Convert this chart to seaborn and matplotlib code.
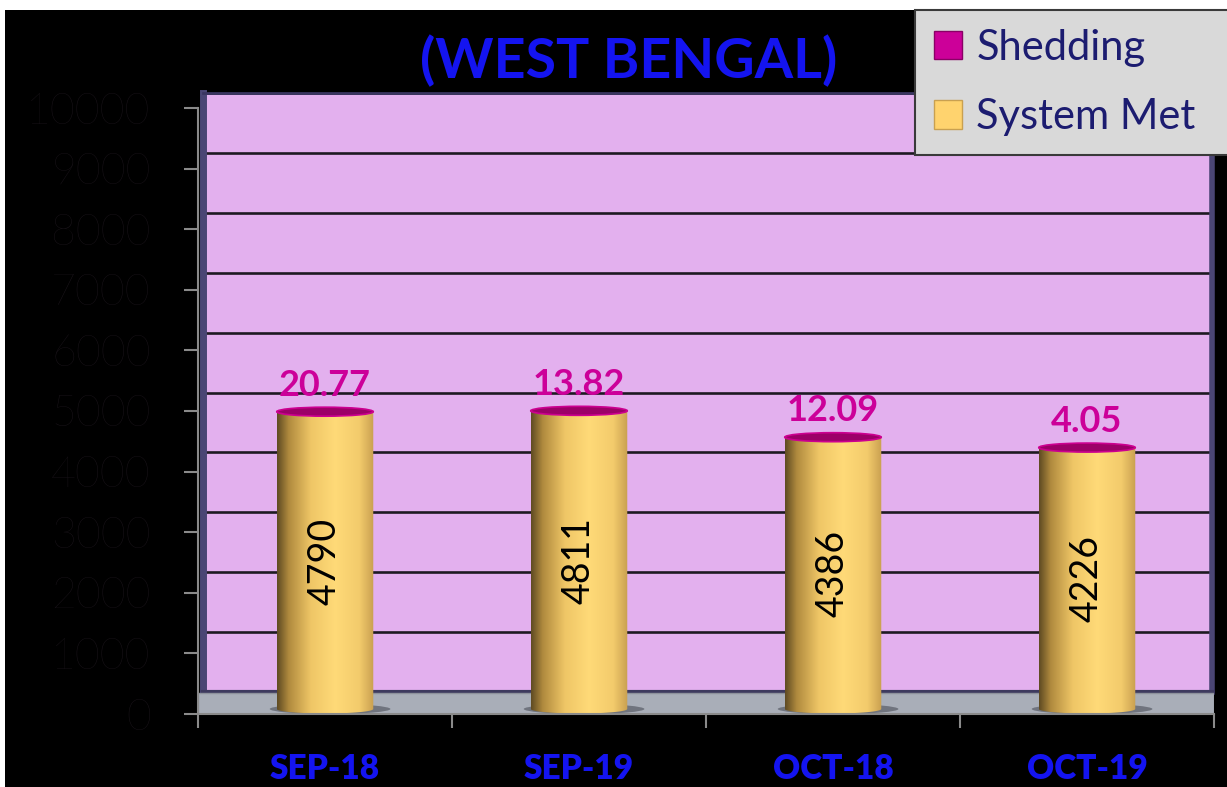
import numpy as np
import pandas as pd
import matplotlib
matplotlib.use("Agg")
import matplotlib.pyplot as plt
import seaborn as sns
from matplotlib.patches import Ellipse, Rectangle, PathPatch, Patch
from matplotlib.path import Path
from matplotlib.colors import LinearSegmentedColormap

# ---------------- data ----------------
months = ["SEP-18", "SEP-19", "OCT-18", "OCT-19"]
system_met = [4790, 4811, 4386, 4226]
shedding = [20.77, 13.82, 12.09, 4.05]
y_ticks = list(range(0, 10001, 1000))
series_names = ["Shedding", "System Met"]
title = "(WEST BENGAL)"

df = pd.DataFrame({"month": months, "system_met": system_met, "shedding": shedding})

# ---------------- style ----------------
W, H = 1227, 787
sns.set_theme(style="white")
plt.rcParams["font.family"] = ["Lato", "DejaVu Sans"]

fig = plt.figure(figsize=(W / 100, H / 100), dpi=100, facecolor="white")


def box(l, t, r, b):
    return [l / W, 1 - b / H, (r - l) / W, (b - t) / H]


# black slide background
fig.patches.append(Rectangle((5 / W, 0), 1 - 5 / W, 1 - 10 / H, transform=fig.transFigure,
                             facecolor="black", edgecolor="none", zorder=-10))

# ---------------- back wall ----------------
ax_wall = fig.add_axes(box(203, 93, 1212, 692))
ax_wall.set_facecolor("#E3B0EE")
ax_wall.set_xlim(0, 1)
ax_wall.set_ylim(0, 10000)
ax_wall.set_yticks(y_ticks)
ax_wall.set_xticks([])
ax_wall.tick_params(left=False, labelleft=False, bottom=False, labelbottom=False)
ax_wall.grid(axis="y", color="#1E1A22", lw=1.9)
ax_wall.spines["left"].set(color="#4A4574", lw=5)
ax_wall.spines["right"].set(color="#4A4574", lw=4)
ax_wall.spines["bottom"].set(color="#3E3A5E", lw=3)
ax_wall.spines["top"].set(color="#3A3560", lw=2)

# ---------------- bars (cylinders) ----------------
base_px = 709
ppu = 0.0618  # pixels per unit in front plane
ax = fig.add_axes(box(198, 92, 1214, 714))
ax.set_facecolor("none")
sns.barplot(data=df, x="month", y="system_met", ax=ax, width=0.38,
            color="#FFD870", saturation=1, zorder=3)
ylim = (-(714 - base_px) / ppu, (base_px - 92) / ppu)
ax.set_xlim(-0.5, 3.5)
ax.set_ylim(*ylim)
ax.set_autoscale_on(False)
ax.set_axis_off()

# floor
ax.add_patch(Rectangle((0, 0), 1, 21 / 622, transform=ax.transAxes,
                       facecolor="#A9AEB8", edgecolor="#8E929C", lw=1, zorder=1))

cmap = LinearSegmentedColormap.from_list(
    "cyl", [(0, "#5E4A22"), (0.12, "#B08A3E"), (0.35, "#EFC666"),
            (0.6, "#FFDA78"), (0.85, "#F3CB6C"), (1, "#C9A050")])
ell_h = 9 / ppu
grad = np.linspace(0, 1, 256).reshape(1, -1)
bars = [b for b in ax.patches if b.get_height() > 100][:len(months)]
for bar, sm, sh in zip(bars, df["system_met"], df["shedding"]):
    x0 = bar.get_x()
    w = bar.get_width()
    cx = x0 + w / 2
    total = sm + sh
    # shadow on floor
    ax.add_patch(Ellipse((cx + 0.02, 0), w * 1.25, 10 / ppu, facecolor="#4A4E58",
                         alpha=0.6, edgecolor="none", zorder=2))
    t = np.linspace(np.pi, 2 * np.pi, 60)
    verts = [(x0, total), (x0, 0)] + list(zip(cx + w / 2 * np.cos(t), ell_h / 2 * np.sin(t))) \
        + [(x0 + w, total), (x0, total)]
    clip = PathPatch(Path(verts), transform=ax.transData, facecolor="none", edgecolor="none")
    ax.add_patch(clip)
    im = ax.imshow(grad, cmap=cmap, aspect="auto", extent=[x0, x0 + w, -ell_h, total],
                   zorder=3, interpolation="bicubic")
    im.set_clip_path(clip)
    bar.set_visible(False)
    # shedding cap
    ax.add_patch(Ellipse((cx, total), w, ell_h, facecolor="#9C0068", edgecolor="#CC0090",
                         lw=1.2, zorder=4))
    ax.text(cx, sm / 2, f"{sm}", rotation=90, ha="center", va="center",
            fontsize=27, color="black", zorder=5)
    ax.annotate(f"{sh:.2f}", (cx, total), xytext=(0, 19), textcoords="offset points",
                ha="center", va="center", fontsize=26, fontweight="bold",
                color="#CC0099", zorder=5)
ax.set_xlim(-0.5, 3.5)
ax.set_ylim(*ylim)

# ---------------- axis with ticks ----------------
axt = fig.add_axes(box(198, 108, 1214, 714))
axt.set_facecolor("none")
axt.set_xlim(-0.5, 3.5)
axt.set_ylim(0, 10000)
axt.set_yticks(y_ticks)
axt.set_yticklabels([str(v) for v in y_ticks])
for lbl in axt.get_yticklabels():
    lbl.set_fontweight("light")
axt.set_xticks(np.arange(-0.5, len(months), 1))
axt.set_xticklabels([])
axt.set_xticks(range(len(months)), minor=True)
axt.set_xticklabels(months, minor=True)
for lbl in axt.get_xticklabels(minor=True):
    lbl.set_fontweight("heavy")
axt.tick_params(axis="y", left=True, length=10, width=1.5, color="#8A8A8A", pad=24,
                labelsize=31, labelcolor="#1A141A")
axt.tick_params(axis="x", which="major", bottom=True, length=10, width=1.5, color="#8A8A8A")
axt.tick_params(axis="x", which="minor", bottom=True, length=0, pad=28, labelsize=24,
                labelcolor="#1414F0")
for s in ["top", "right"]:
    axt.spines[s].set_visible(False)
for s in ["left", "bottom"]:
    axt.spines[s].set(color="#8A8A8A", lw=1.5)
axt.grid(False)

# ---------------- title ----------------
fig.text(629 / W, 1 - 61 / H, title, ha="center", va="center", fontsize=40,
         fontweight="bold", color="#1414F0")

# ---------------- legend ----------------
handles = [Patch(facecolor="#CC0099", edgecolor="#8A0066"),
           Patch(facecolor="#FFD36E", edgecolor="#C9A050")]
leg = fig.legend(handles, series_names, loc="upper left",
                 bbox_to_anchor=(915 / W, 1 - 150 / H, 330 / W, 140 / H), mode="expand",
                 fontsize=30, labelcolor="#1C1C70", frameon=True, fancybox=False,
                 facecolor="#D9D9D9", edgecolor="#3A3A3A", framealpha=1,
                 handlelength=0.67, handleheight=0.67, handletextpad=0.35,
                 labelspacing=0.75, borderpad=0.45, borderaxespad=0)
leg.get_frame().set_linewidth(1.5)

fig.savefig("out.png", dpi=100, facecolor=fig.get_facecolor())
